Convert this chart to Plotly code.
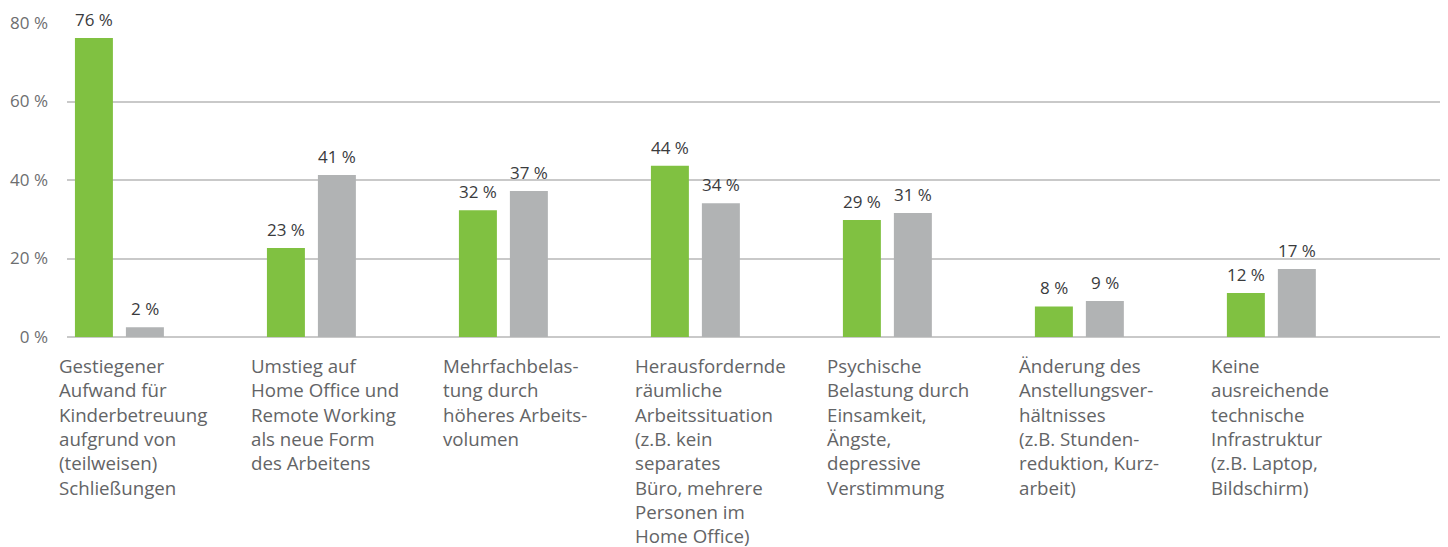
import plotly.graph_objects as go

categories = [
    "Gestiegener<br>Aufwand für<br>Kinderbetreuung<br>aufgrund von<br>(teilweisen)<br>Schließungen",
    "Umstieg auf<br>Home Office und<br>Remote Working<br>als neue Form<br>des Arbeitens",
    "Mehrfachbelas-<br>tung durch<br>höheres Arbeits-<br>volumen",
    "Herausfordernde<br>räumliche<br>Arbeitssituation<br>(z.B. kein<br>separates<br>Büro, mehrere<br>Personen im<br>Home Office)",
    "Psychische<br>Belastung durch<br>Einsamkeit,<br>Ängste,<br>depressive<br>Verstimmung",
    "Änderung des<br>Anstellungsver-<br>hältnisses<br>(z.B. Stunden-<br>reduktion, Kurz-<br>arbeit)",
    "Keine<br>ausreichende<br>technische<br>Infrastruktur<br>(z.B. Laptop,<br>Bildschirm)",
]
green_values = [76.2, 22.7, 32.3, 43.6, 29.8, 7.8, 11.2]
grey_values = [2.5, 41.3, 37.2, 34.1, 31.6, 9.2, 17.3]
green_labels = ["76 %", "23 %", "32 %", "44 %", "29 %", "8 %", "12 %"]
grey_labels = ["2 %", "41 %", "37 %", "34 %", "31 %", "9 %", "17 %"]
y_ticks = [0, 20, 40, 60, 80]
y_ticktext = ["0 %", "20 %", "40 %", "60 %", "80 %"]

GREEN = "#80c141"
GREY = "#b1b3b4"
FONT = "Open Sans"

xs = list(range(len(categories)))

fig = go.Figure()
fig.add_bar(x=xs, y=green_values, marker_color=GREEN, marker_line_width=0, hoverinfo="skip")
fig.add_bar(x=xs, y=grey_values, marker_color=GREY, marker_line_width=0, hoverinfo="skip")

annotations = []
for i in xs:
    annotations.append(dict(x=i, y=green_values[i], xref="x", yref="y", text=green_labels[i],
                            showarrow=False, xanchor="center", yanchor="bottom", xshift=-25.5, yshift=6,
                            borderpad=0,
                            font=dict(family=FONT, size=17, color="#3a3b3d")))
    annotations.append(dict(x=i, y=grey_values[i], xref="x", yref="y", text=grey_labels[i],
                            showarrow=False, xanchor="center", yanchor="bottom", xshift=25.5, yshift=6,
                            borderpad=0,
                            font=dict(family=FONT, size=17, color="#3a3b3d")))
    annotations.append(dict(x=i, y=0, xref="x", yref="y", text=categories[i],
                            showarrow=False, xanchor="left", yanchor="top", align="left",
                            xshift=-61.5, yshift=-15, borderpad=0,
                            font=dict(family=FONT, size=18.7, color="#636466")))

fig.update_layout(
    width=1440, height=539,
    margin=dict(l=59, r=0, t=15, b=210, autoexpand=False),
    paper_bgcolor="white", plot_bgcolor="white",
    barmode="group", bargap=0.469, bargroupgap=0.255,
    showlegend=False,
    font=dict(family=FONT),
    annotations=annotations,
)
fig.update_xaxes(type="linear", range=[-0.273, 6.92], showticklabels=False, showgrid=False,
                 zeroline=False, showline=False, automargin=False)
fig.update_yaxes(range=[0, 80], tickvals=y_ticks, ticktext=y_ticktext,
                 showgrid=True, gridcolor="#c9c9c9", gridwidth=1.5,
                 zeroline=True, zerolinecolor="#c9c9c9", zerolinewidth=1.5,
                 showline=False, ticks="", ticklabelstandoff=18, automargin=False,
                 tickfont=dict(family=FONT, size=17, color="#6d6e70"))

fig.write_html("out.html")
